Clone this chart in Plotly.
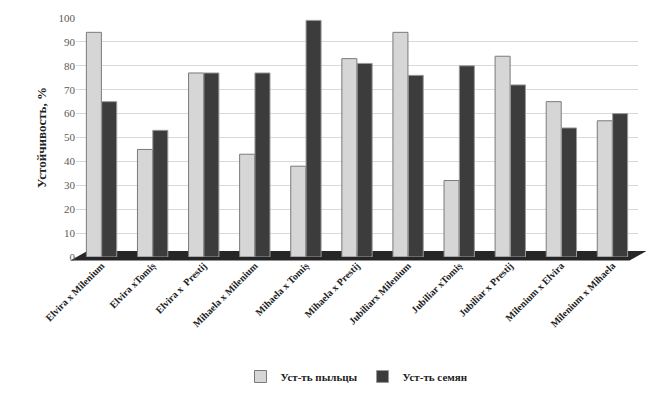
import plotly.graph_objects as go

categories = ["Elvira x Milenium", "Elvira xTomiș", "Elvira x  Prestij", "Mihaela x Milenium",
              "Mihaela x Tomiș", "Mihaela x Prestij", "Jubiliarx Milenium", "Jubiliar xTomiș",
              "Jubiliar x Prestij", "Milenium x Elvira", "Milenium x Mihaela"]
pollen = [94, 45, 77, 43, 38, 83, 94, 32, 84, 65, 57]
seeds = [65, 53, 77, 77, 99, 81, 76, 80, 72, 54, 60]
tick_vals = [0, 10, 20, 30, 40, 50, 60, 70, 80, 90, 100]

serif = "Liberation Serif, Times New Roman, serif"

fig = go.Figure()
fig.add_trace(go.Bar(x=categories, y=pollen, name="Уст-ть пыльцы",
                     marker=dict(color="#d6d6d6", line=dict(color="#7a7a7a", width=1))))
fig.add_trace(go.Bar(x=categories, y=seeds, name="Уст-ть семян",
                     marker=dict(color="#3c3c3c", line=dict(color="#9a9a9a", width=1))))

# dark floor of the 3D chart
fig.add_shape(type="path", xref="paper", yref="paper", layer="below",
              path="M -0.01 -0.015 L 0.02 0.025 L 1.015 0.025 L 0.985 -0.015 Z",
              fillcolor="#262626", line=dict(width=0))

fig.update_layout(
    width=654, height=393,
    margin=dict(l=68, r=24, t=10, b=135),
    paper_bgcolor="white", plot_bgcolor="white",
    barmode="group", bargap=0.4, bargroupgap=0.02,
    font=dict(family=serif, color="#222222"),
    showlegend=True,
    legend=dict(orientation="h", x=0.5, xanchor="center", y=-0.5, yanchor="middle",
                font=dict(family=serif, size=11, color="#222222", weight="bold"),
                traceorder="normal", itemwidth=30),
    xaxis=dict(tickangle=-45, automargin=False,
               tickfont=dict(family=serif, size=10, color="#222222", weight="bold"),
               showgrid=False, showline=False, ticks=""),
    yaxis=dict(range=[0, 100], tickvals=tick_vals, showgrid=True, gridcolor="#d9d9d9",
               gridwidth=1, zeroline=False, showline=False, ticks="", automargin=False,
               tickfont=dict(family=serif, size=11, color="#595959"),
               title=dict(text="Устойчивость, %",
                          font=dict(family=serif, size=13, color="#222222", weight="bold"),
                          standoff=8)),
)
fig.write_html("out.html")
